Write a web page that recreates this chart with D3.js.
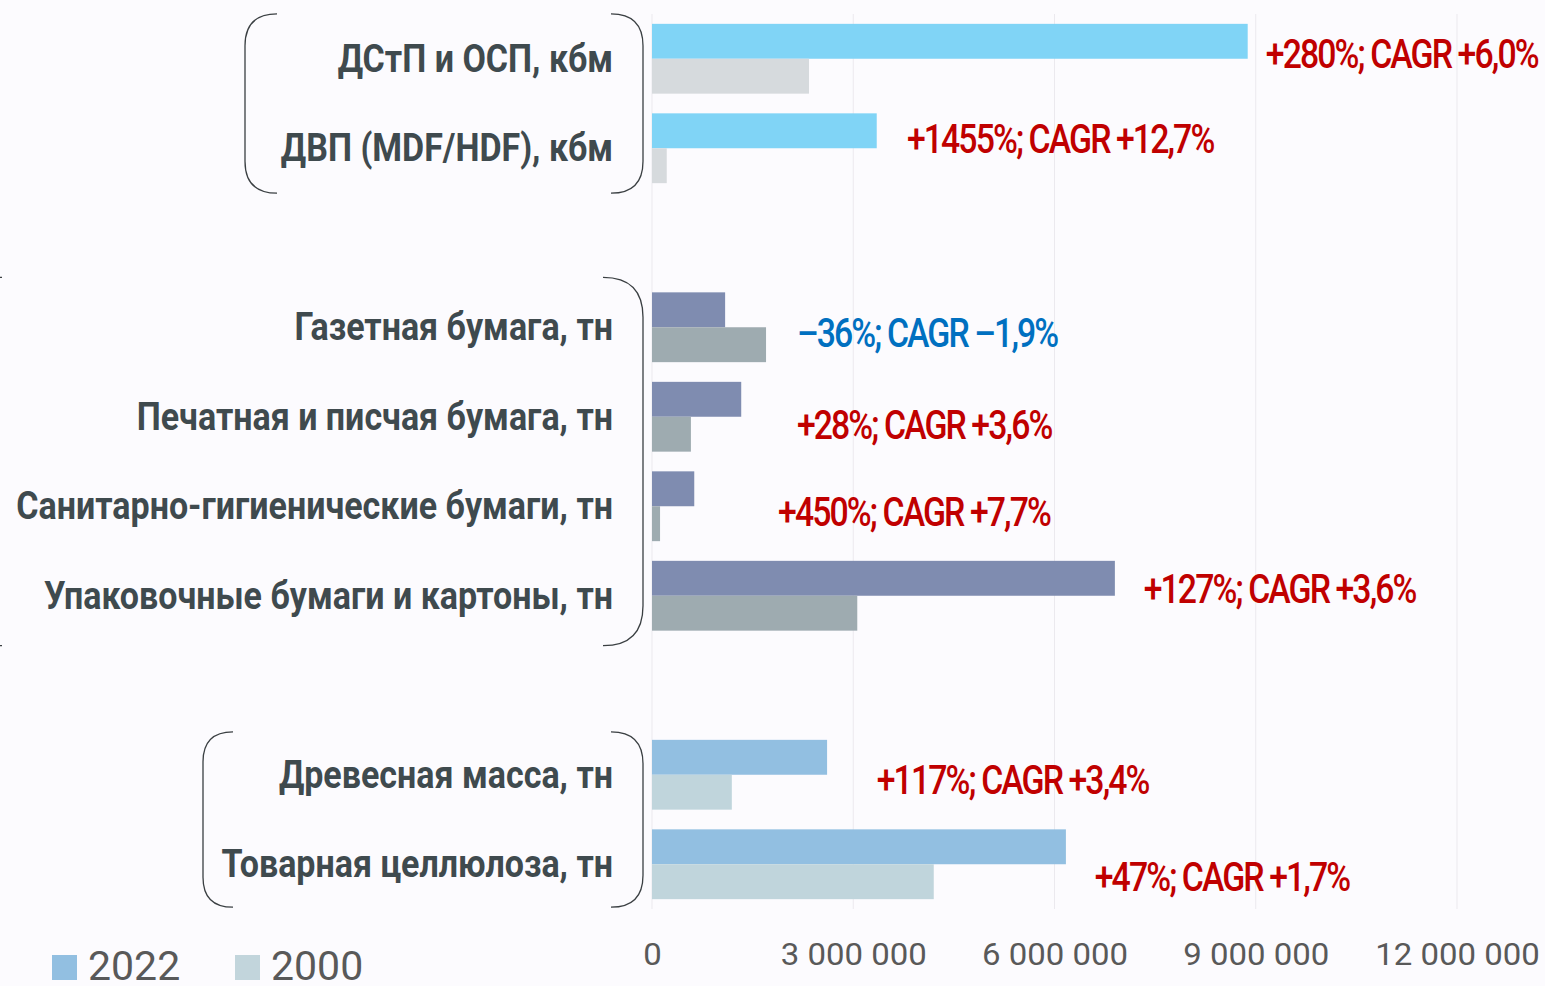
<!DOCTYPE html>
<html>
<head>
<meta charset="utf-8">
<script src="https://cdn.jsdelivr.net/npm/d3@7"></script>
<style>
  html, body { margin: 0; padding: 0; background: #fcfbfe; }
  svg { display: block; }
  text { font-family: Roboto, "Noto Sans", sans-serif; }
  .cat { font-weight: bold; fill: #3f4a4e; }
  .tick text { fill: #595959; }
</style>
</head>
<body>
<div id="app"></div>
<script>
// data
let slots = ["ДСтП и ОСП, кбм", "ДВП (MDF/HDF), кбм", "gap1",
  "Газетная бумага, тн", "Печатная и писчая бумага, тн",
  "Санитарно-гигиенические бумаги, тн", "Упаковочные бумаги и картоны, тн", "gap2",
  "Древесная масса, тн", "Товарная целлюлоза, тн"]
let categories = slots.filter(s => !s.startsWith("gap"))
let v2022 = [8880000, 3350000, 1090000, 1330000, 630000, 6900000, 2610000, 6170000]
let v2000 = [2340000, 220000, 1700000, 580000, 120000, 3060000, 1190000, 4200000]
let notes = ["+280%; CAGR +6,0%", "+1455%; CAGR +12,7%", "–36%; CAGR –1,9%", "+28%; CAGR +3,6%",
  "+450%; CAGR +7,7%", "+127%; CAGR +3,6%", "+117%; CAGR +3,4%", "+47%; CAGR +1,7%"]
let noteAt = [9150000, 3800000, 2160000, 2160000, 1880000, 7330000, 3350000, 6600000]
let noteDy = [-6, -10, 5, 7, 5, -8, 4, 12]
let groupOf = [0, 0, 1, 1, 1, 1, 2, 2]
let xTicks = [0, 3000000, 6000000, 9000000, 12000000]
let years = ["2022", "2000"]

// styles per group: [2022, 2000]
let colors = [["#80d4f6", "#d6dadd"], ["#7f8cb0", "#9eabb0"], ["#92bfe1", "#c0d5dc"]]
let legendColors = ["#92bfe1", "#c2d5dc"]
let brackets = [
  {first: 0, last: 1, pad: 10, left: 245, right: 643, rl: 32, rr: 32},
  {first: 3, last: 6, pad: 15, left: -36, right: 643, rl: 38, rr: 40},
  {first: 8, last: 9, pad: 8, left: 203, right: 643, rl: 30, rr: 32}
]

let width = 1545, height = 986
let svg = d3.select("#app").append("svg")
    .attr("width", width)
    .attr("height", height)

let x = d3.scaleLinear().domain([0, 12000000]).range([652, 1457])
let y = d3.scaleBand().domain(slots).range([14, 909]).paddingInner(0.22).paddingOuter(0.11)
let yy = d3.scaleBand().domain(years).range([0, y.bandwidth()])

// grid
svg.append("g").selectAll("line")
    .data(xTicks)
    .join("line")
    .attr("x1", d => x(d)).attr("x2", d => x(d))
    .attr("y1", 14).attr("y2", 909)
    .attr("stroke", "#ebe9ee").attr("stroke-width", 1)

// bars
let rows = categories.map((c, i) => ({c, i, vals: [v2022[i], v2000[i]]}))
let row = svg.append("g").selectAll("g")
    .data(rows)
    .join("g")
    .attr("transform", d => `translate(0,${y(d.c)})`)

row.selectAll("rect")
    .data(d => d.vals.map((v, k) => ({v, k, g: groupOf[d.i]})))
    .join("rect")
    .attr("x", x(0))
    .attr("y", d => yy(years[d.k]))
    .attr("width", d => x(d.v) - x(0))
    .attr("height", yy.bandwidth())
    .attr("fill", d => colors[d.g][d.k])

// squeeze a set of texts so that the reference one gets the wanted width
function squeeze(sel, refIndex, want) {
  let w = sel.nodes()[refIndex].getComputedTextLength()
  return want / w
}

// category labels
let cat = svg.append("g").selectAll("text")
    .data(categories)
    .join("text")
    .attr("class", "cat")
    .attr("text-anchor", "end")
    .attr("font-size", 38)
    .text(d => d)
let kc = squeeze(cat, 4, 597)
cat.attr("transform", d => `translate(613,${y(d) + y.bandwidth() / 2 + 13}) scale(${kc},1)`)

// growth notes
let note = svg.append("g").selectAll("text")
    .data(rows)
    .join("text")
    .attr("font-size", 41)
    .attr("font-weight", 500)
    .attr("letter-spacing", -2.3)
    .attr("fill", d => notes[d.i].startsWith("–") ? "#0070c0" : "#c00000")
    .text(d => notes[d.i])
let kn = squeeze(note, 0, 272)
note.attr("transform", d => `translate(${x(noteAt[d.i])},${y(d.c) + y.bandwidth() / 2 + noteDy[d.i] + 15}) scale(${kn},1)`)

// brackets
function bracketPath(b) {
  let top = y(slots[b.first]) - b.pad
  let bot = y(slots[b.last]) + y.bandwidth() + b.pad
  let L = d3.path()
  L.moveTo(b.left + b.rl, top)
  L.quadraticCurveTo(b.left, top, b.left, top + b.rl)
  L.lineTo(b.left, bot - b.rl)
  L.quadraticCurveTo(b.left, bot, b.left + b.rl, bot)
  L.moveTo(b.right - b.rr, top)
  L.quadraticCurveTo(b.right, top, b.right, top + b.rr)
  L.lineTo(b.right, bot - b.rr)
  L.quadraticCurveTo(b.right, bot, b.right - b.rr, bot)
  return L.toString()
}
svg.append("g").selectAll("path")
    .data(brackets)
    .join("path")
    .attr("d", bracketPath)
    .attr("fill", "none")
    .attr("stroke", "#3a3f42")
    .attr("stroke-width", 1.3)

// x axis
let fmt = d3.formatLocale({thousands: "\u00a0", grouping: [3], decimal: ",", currency: ["", ""]}).format(",d")
let axis = svg.append("g")
    .attr("transform", "translate(0,909)")
    .call(d3.axisBottom(x).tickValues(xTicks).tickFormat(fmt).tickSize(0).tickPadding(0))
axis.select(".domain").remove()
let tk = axis.selectAll(".tick text")
    .attr("font-size", 31)
    .attr("dy", null)
let ka = squeeze(tk, 1, 146)
tk.attr("transform", `translate(0,56) scale(${ka},1)`)

// legend
let leg = svg.append("g").selectAll("g")
    .data(years)
    .join("g")
    .attr("transform", (d, i) => `translate(${52 + i * 183},955)`)
leg.append("rect")
    .attr("width", 25).attr("height", 25)
    .attr("fill", (d, i) => legendColors[i])
leg.append("text")
    .attr("x", 36).attr("y", 25)
    .attr("font-size", 41)
    .attr("fill", "#595959")
    .text(d => d)
</script>
</body>
</html>
